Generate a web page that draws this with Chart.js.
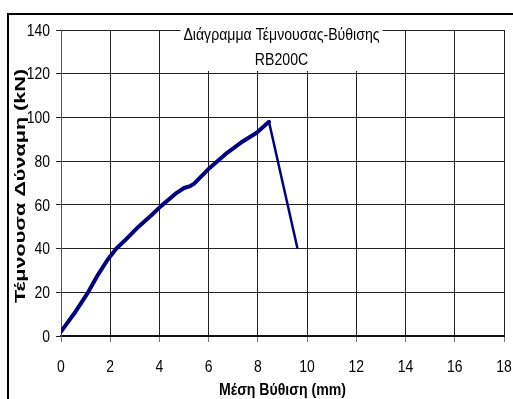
<!DOCTYPE html>
<html>
<head>
<meta charset="utf-8">
<script src="https://cdn.jsdelivr.net/npm/chart.js@4/dist/chart.umd.min.js"></script>
<style>
html,body{margin:0;padding:0;background:#fff;overflow:hidden;}
#wrap{position:relative;width:513px;height:399px;}
</style>
</head>
<body>
<div id="wrap"><canvas id="c" width="513" height="399"></canvas></div>
<script>
// Data
const deflection = [0, 0.55, 1.1, 1.5, 1.9, 2.25, 2.65, 3.15, 3.65, 4.05, 4.7, 5.0, 5.25, 5.4, 6.05, 6.75, 7.3, 7.95, 8.45, 9.6];
const shearForce = [2, 10.5, 20, 28, 35, 40, 44.3, 50, 55, 59.3, 65.5, 67.7, 68.6, 69.6, 77, 83.8, 88.4, 93, 98, 40.5];
const peakIndex = 18;
const xTicks = [0, 2, 4, 6, 8, 10, 12, 14, 16, 18];
const yTicks = [0, 20, 40, 60, 80, 100, 120, 140];
const titleLines = ['Διάγραμμα Τέμνουσας-Βύθισης', 'RB200C'];
const xTitle = 'Μέση Βύθιση (mm)';
const yTitle = 'Τέμνουσα Δύναμη (kN)';

const SANS = "'Liberation Sans', Arial, sans-serif";
const NARROW_SCALE = 0.82;

const points = deflection.map((x, i) => ({x: x, y: shearForce[i]}));

// draw text horizontally condensed (Arial Narrow look)
function narrowText(ctx, text, x, y, align, font, sx) {
  ctx.save();
  ctx.translate(x, y);
  ctx.scale(sx, 1);
  ctx.font = font;
  ctx.textAlign = align;
  ctx.textBaseline = 'middle';
  ctx.fillText(text, 0, 0);
  ctx.restore();
}

const framePlugin = {
  id: 'frame',
  beforeDraw(chart) {
    const ctx = chart.ctx;
    ctx.save();
    ctx.fillStyle = '#fff';
    ctx.fillRect(0, 0, chart.width, chart.height);
    ctx.strokeStyle = '#000';
    ctx.lineWidth = 2;
    ctx.strokeRect(8, 14, 600, 500);
    ctx.restore();
  },
  afterDraw(chart) {
    const ctx = chart.ctx;
    const a = chart.chartArea;
    const xs = chart.scales.x, ys = chart.scales.y;
    const cx = (a.left + a.right) / 2 - 1;
    ctx.save();
    ctx.fillStyle = '#000';
    // tick labels
    yTicks.forEach(v => {
      narrowText(ctx, String(v), 50, ys.getPixelForValue(v) + 1, 'right', '17px ' + SANS, NARROW_SCALE);
    });
    xTicks.forEach(v => {
      narrowText(ctx, String(v), xs.getPixelForValue(v), 367, 'center', '17px ' + SANS, NARROW_SCALE);
    });
    // axis titles
    narrowText(ctx, xTitle, cx + 1, 390, 'center', 'bold 17px ' + SANS, 0.83);
    ctx.save();
    ctx.translate(21, 186);
    ctx.rotate(-Math.PI / 2);
    ctx.scale(1.44, 1);
    ctx.font = 'bold 15px ' + SANS;
    ctx.textAlign = 'center';
    ctx.textBaseline = 'middle';
    ctx.fillText(yTitle, 0, 0);
    ctx.restore();
    // chart title with white box
    ctx.fillStyle = '#fff';
    ctx.fillRect(cx - 101, a.top - 4, 202, 45);
    ctx.fillStyle = '#000';
    narrowText(ctx, titleLines[0], cx, 35, 'center', '17px ' + SANS, 0.83);
    narrowText(ctx, titleLines[1], cx, 60, 'center', '17px ' + SANS, 0.83);
    ctx.restore();
  }
};

new Chart(document.getElementById('c'), {
  type: 'line',
  data: {
    datasets: [{
      data: points,
      borderColor: '#000080',
      backgroundColor: '#000080',
      borderWidth: 4,
      pointRadius: 0,
      tension: 0,
      borderCapStyle: 'round',
      borderJoinStyle: 'round',
      segment: {
        borderWidth: c => c.p0DataIndex >= peakIndex ? 2.5 : 4
      }
    }]
  },
  options: {
    responsive: false,
    animation: false,
    devicePixelRatio: 1,
    layout: {padding: {left: 0, top: 30, right: 9, bottom: 0}},
    plugins: {legend: {display: false}, tooltip: {enabled: false}, title: {display: false}},
    scales: {
      x: {
        type: 'linear',
        min: 0, max: 18,
        afterBuildTicks: s => { s.ticks = xTicks.map(v => ({value: v})); },
        afterFit: s => { s.height = 63; },
        grid: {color: '#222', lineWidth: 1, tickLength: 6, drawTicks: true, tickColor: '#777'},
        border: {color: '#111', width: 2},
        ticks: {display: false}
      },
      y: {
        type: 'linear',
        min: 0, max: 140,
        afterBuildTicks: s => { s.ticks = yTicks.map(v => ({value: v})); },
        afterFit: s => { s.width = 61; },
        grid: {color: '#222', lineWidth: 1, tickLength: 5, tickColor: '#222'},
        border: {color: '#555', width: 1},
        ticks: {display: false}
      }
    }
  },
  plugins: [framePlugin]
});
</script>
</body>
</html>
